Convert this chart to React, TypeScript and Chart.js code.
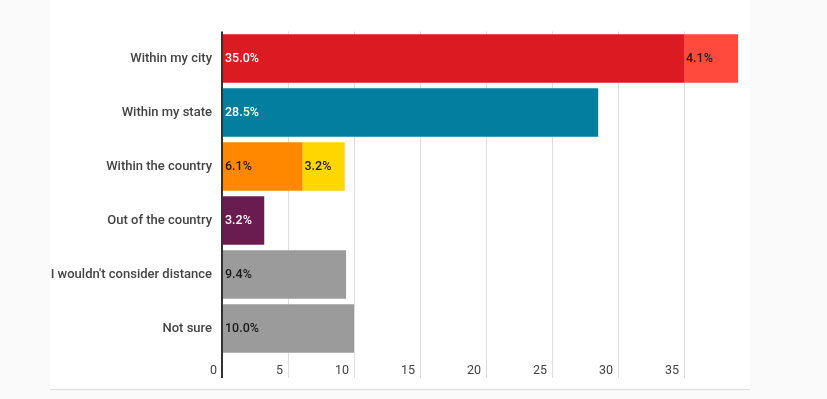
import React, { useEffect, useRef } from "react";
import { Chart, registerables } from "chart.js";

Chart.register(...registerables);

const categories = [
  "Within my city",
  "Within my state",
  "Within the country",
  "Out of the country",
  "I wouldn't consider distance",
  "Not sure",
];
const primaryValues = [35.0, 28.5, 6.1, 3.2, 9.4, 10.0];
const secondaryValues = [4.1, null, 3.2, null, null, null];
const primaryColors = ["#DC1A21", "#037E9E", "#FF8800", "#6A1B4F", "#9B9B9B", "#9B9B9B"];
const secondaryColors = ["#FF4A3D", "#FF4A3D", "#FFD600", "#FFD600", "#FFD600", "#FFD600"];
const primaryLabelColors = ["#FFFFFF", "#FFFFFF", "#1A1A1A", "#FFFFFF", "#1A1A1A", "#1A1A1A"];
const secondaryLabelColors = ["#1A1A1A", "#1A1A1A", "#1A1A1A", "#1A1A1A", "#1A1A1A", "#1A1A1A"];
const xMin = 0;
const xMax = 40;
const xStep = 5;

const labelColorSets = [primaryLabelColors, secondaryLabelColors];

const dataLabelPlugin = {
  id: "dataLabels",
  afterDatasetsDraw(chart: any) {
    const ctx = chart.ctx;
    ctx.save();
    ctx.font = "500 12.5px Roboto";
    ctx.textBaseline = "middle";
    ctx.textAlign = "left";
    chart.data.datasets.forEach((ds: any, di: number) => {
      const meta = chart.getDatasetMeta(di);
      meta.data.forEach((bar: any, i: number) => {
        const v = ds.data[i];
        if (v == null) return;
        const p = bar.getProps(["x", "y", "base"], true);
        ctx.fillStyle = labelColorSets[di][i];
        ctx.fillText(v.toFixed(1) + "%", Math.min(p.x, p.base) + 2, p.y + 0.5);
      });
    });
    ctx.restore();
  },
};

export default function App() {
  const ref = useRef<HTMLCanvasElement | null>(null);

  useEffect(() => {
    if (!ref.current) return;
    const chart = new Chart(ref.current, {
      type: "bar",
      data: {
        labels: categories,
        datasets: [
          {
            data: primaryValues,
            backgroundColor: primaryColors,
            borderWidth: 0,
            barPercentage: 0.9,
            categoryPercentage: 1.0,
          },
          {
            data: secondaryValues as any,
            backgroundColor: secondaryColors,
            borderWidth: 0,
            barPercentage: 0.9,
            categoryPercentage: 1.0,
          },
        ],
      },
      options: {
        indexAxis: "y",
        responsive: false,
        animation: false,
        layout: { padding: { top: 31.5, right: 0, bottom: 0, left: 0 } },
        plugins: {
          legend: { display: false },
          tooltip: { enabled: false },
        },
        scales: {
          x: {
            type: "linear",
            stacked: true,
            min: xMin,
            max: xMax,
            border: { display: false },
            grid: {
              drawTicks: true,
              tickLength: 22.5,
              color: (c: any) => (c.tick && c.tick.value === 0 ? "#333333" : "#DDDDDD"),
              lineWidth: (c: any) => (c.tick && c.tick.value === 0 ? 2 : 1),
            },
            ticks: {
              stepSize: xStep,
              align: "end",
              labelOffset: -5,
              padding: -15,
              color: "#444444",
              font: { family: "Roboto", size: 12.5 },
              callback: (v: any) => (v >= xMax ? null : String(v)),
            },
            afterFit: (s: any) => {
              s.height = 33.5;
            },
          },
          y: {
            type: "category",
            stacked: true,
            border: { display: false },
            grid: { display: false, drawTicks: false },
            ticks: {
              padding: 10,
              color: "#444444",
              font: { family: "Roboto", size: 13, weight: "500" },
            },
            afterFit: (s: any) => {
              s.width = 172;
            },
          },
        },
      },
      plugins: [dataLabelPlugin],
    });
    return () => chart.destroy();
  }, []);

  return (
    <div style={{ position: "fixed", inset: 0, background: "#FAFAFA" }}>
      <div
        style={{
          position: "absolute",
          left: 50,
          top: 0,
          width: 700,
          height: 389,
          background: "#FFFFFF",
          borderBottom: "1px solid #DDDDDD",
        }}
      >
        <canvas ref={ref} width={700} height={389} style={{ display: "block" }} />
      </div>
    </div>
  );
}
